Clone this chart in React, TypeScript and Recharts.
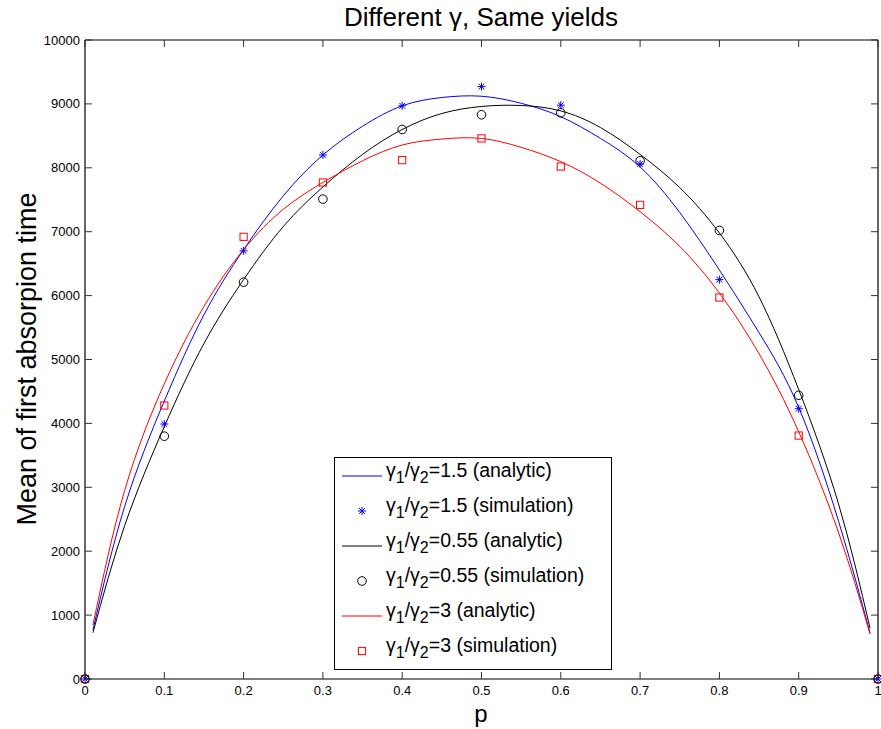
import { ComposedChart, Line, Scatter, XAxis, YAxis, Legend } from "recharts";

const P_SIM = [0, 0.1, 0.2, 0.3, 0.4, 0.5, 0.6, 0.7, 0.8, 0.9, 1];
const BLUE_SIM = [0, 3990, 6700, 8200, 8970, 9270, 8980, 8060, 6250, 4230, 0];
const BLACK_SIM = [0, 3800, 6210, 7510, 8600, 8830, 8860, 8110, 7020, 4440, 0];
const RED_SIM = [0, 4280, 6920, 7770, 8120, 8460, 8020, 7420, 5970, 3810, 0];

const P_CURVE = [0.01, 0.05, 0.1, 0.15, 0.2, 0.25, 0.3, 0.35, 0.4, 0.45, 0.5, 0.55, 0.6, 0.65, 0.7, 0.75, 0.8, 0.85, 0.9, 0.95, 0.99];
const BLUE_CURVE = [767, 2700, 4350, 5700, 6720, 7560, 8200, 8650, 8970, 9100, 9120, 9010, 8800, 8460, 8013, 7300, 6400, 5420, 4250, 2480, 715];
const BLACK_CURVE = [725, 2400, 3950, 5250, 6250, 7080, 7700, 8210, 8600, 8850, 8960, 8975, 8890, 8630, 8210, 7690, 6980, 5980, 4530, 2750, 793];
const RED_CURVE = [845, 2950, 4620, 5830, 6720, 7350, 7770, 8110, 8357, 8450, 8460, 8320, 8096, 7760, 7313, 6770, 6040, 5090, 3870, 2300, 704];

const X_TICKS = [0, 0.1, 0.2, 0.3, 0.4, 0.5, 0.6, 0.7, 0.8, 0.9, 1];
const Y_TICKS = [0, 1000, 2000, 3000, 4000, 5000, 6000, 7000, 8000, 9000, 10000];

const LEGEND_RATIOS = ["1.5", "0.55", "3"];

const FONT = "'Liberation Sans', Arial, Helvetica, sans-serif";
const BLUE = "#0000ff";
const RED = "#ff0000";
const BLACK = "#000000";
const TICK = 7;

const zip = (ps: number[], vs: number[]) => ps.map((p, i) => ({ p, v: vs[i] }));

// tick components: label plus an inward tick mark (matlab style box)
const BottomTick = ({ x, y, payload }: any) => (
  <g>
    <line x1={x} x2={x} y1={y - 12} y2={y - 12 - TICK} stroke="#333" />
    <text x={x} y={y + 4} textAnchor="middle" fontSize={13} fontFamily={FONT} fill="#000">
      {payload.value}
    </text>
  </g>
);
const LeftTick = ({ x, y, payload }: any) => (
  <g>
    <line x1={x + 5} x2={x + 5 + TICK} y1={y} y2={y} stroke="#333" />
    <text x={x} y={y + 4.5} textAnchor="end" fontSize={13} fontFamily={FONT} fill="#000">
      {payload.value}
    </text>
  </g>
);
const TopTick = ({ x, y }: any) => (
  <line x1={x} x2={x} y1={y} y2={y + TICK} stroke="#333" />
);
const RightTick = ({ x, y }: any) => (
  <line x1={x} x2={x - TICK} y1={y} y2={y} stroke="#333" />
);

const Star = ({ cx, cy, color = BLUE }: any) => {
  const r = 4;
  const d = r * 0.72;
  return (
    <g stroke={color} strokeWidth={1}>
      <line x1={cx - r} y1={cy} x2={cx + r} y2={cy} />
      <line x1={cx} y1={cy - r} x2={cx} y2={cy + r} />
      <line x1={cx - d} y1={cy - d} x2={cx + d} y2={cy + d} />
      <line x1={cx - d} y1={cy + d} x2={cx + d} y2={cy - d} />
    </g>
  );
};

const Circle = ({ cx, cy }: any) => (
  <circle cx={cx} cy={cy} r={4.3} fill="none" stroke={BLACK} strokeWidth={1} />
);

const Square = ({ cx, cy }: any) => (
  <rect x={cx - 3.6} y={cy - 3.6} width={7.2} height={7.2} fill="none" stroke={RED} strokeWidth={1} />
);

const GammaText = ({ x, y, ratio, kind }: any) => (
  <text x={x} y={y} fontSize={19.5} fontFamily={FONT} fill="#000">
    γ<tspan dy={6} fontSize={16}>1</tspan>
    <tspan dy={-6}>/γ</tspan>
    <tspan dy={6} fontSize={16}>2</tspan>
    <tspan dy={-6}>={ratio} ({kind})</tspan>
  </text>
);

const LegendBox = () => {
  const colors = [BLUE, BLACK, RED];
  const rows: any[] = [];
  LEGEND_RATIOS.forEach((ratio, i) => {
    const yLine = 19 + i * 70;
    const yMark = yLine + 35;
    rows.push(
      <g key={`a${i}`}>
        <line x1={8} x2={48} y1={yLine} y2={yLine} stroke={colors[i]} strokeWidth={1} />
        <GammaText x={52} y={yLine + 1} ratio={ratio} kind="analytic" />
      </g>
    );
    rows.push(
      <g key={`s${i}`}>
        {i === 0 && <Star cx={28} cy={yMark} />}
        {i === 1 && <Circle cx={28} cy={yMark} />}
        {i === 2 && <Square cx={28} cy={yMark} />}
        <GammaText x={52} y={yMark + 1} ratio={ratio} kind="simulation" />
      </g>
    );
  });
  return (
    <svg width={279} height={214} style={{ display: "block" }}>
      <rect x={0.5} y={0.5} width={277} height={212} fill="#fff" stroke="#000" strokeWidth={1} />
      {rows}
    </svg>
  );
};

export default function App() {
  const frame = zip([0, 1], [0, 10000]);
  return (
    <div style={{ position: "absolute", left: 0, top: 0, width: 881, height: 729, background: "#fff" }}>
      <ComposedChart
        width={881}
        height={729}
        margin={{ top: 39, right: 2, bottom: 20, left: 25 }}
        style={{ fontFamily: FONT }}
      >
        <XAxis
          dataKey="p"
          type="number"
          domain={[0, 1]}
          ticks={X_TICKS}
          interval={0}
          height={30}
          tickSize={0}
          tickMargin={12}
          axisLine={{ stroke: "#000", strokeWidth: 1.2 }}
          tickLine={false}
          tick={<BottomTick />}
        />
        <XAxis
          xAxisId="top"
          dataKey="p"
          orientation="top"
          type="number"
          domain={[0, 1]}
          ticks={X_TICKS}
          interval={0}
          height={1}
          tickSize={0}
          tickMargin={0}
          tickLine={false}
          tick={<TopTick />}
          axisLine={{ stroke: "#000", strokeWidth: 1.2 }}
        />
        <YAxis
          type="number"
          domain={[0, 10000]}
          ticks={Y_TICKS}
          interval={0}
          width={60}
          tickSize={0}
          tickMargin={5}
          axisLine={{ stroke: "#000", strokeWidth: 1.2 }}
          tickLine={false}
          tick={<LeftTick />}
        />
        <YAxis
          yAxisId="right"
          orientation="right"
          type="number"
          domain={[0, 10000]}
          ticks={Y_TICKS}
          interval={0}
          width={1}
          tickSize={0}
          tickMargin={0}
          tickLine={false}
          tick={<RightTick />}
          axisLine={{ stroke: "#000", strokeWidth: 1.2 }}
        />
        <Line data={frame} xAxisId="top" yAxisId="right" dataKey="v" stroke="none" dot={false} isAnimationActive={false} legendType="none" />
        <Line data={zip(P_CURVE, BLUE_CURVE)} dataKey="v" type="natural" stroke={BLUE} strokeWidth={1} dot={false} isAnimationActive={false} />
        <Line data={zip(P_CURVE, BLACK_CURVE)} dataKey="v" type="natural" stroke={BLACK} strokeWidth={1} dot={false} isAnimationActive={false} />
        <Line data={zip(P_CURVE, RED_CURVE)} dataKey="v" type="natural" stroke={RED} strokeWidth={1} dot={false} isAnimationActive={false} />
        <Scatter data={zip(P_SIM, RED_SIM)} dataKey="v" shape={(pr: any) => <Square cx={pr.cx} cy={pr.cy} />} isAnimationActive={false} />
        <Scatter data={zip(P_SIM, BLACK_SIM)} dataKey="v" shape={(pr: any) => <Circle cx={pr.cx} cy={pr.cy} />} isAnimationActive={false} />
        <Scatter data={zip(P_SIM, BLUE_SIM)} dataKey="v" shape={(pr: any) => <Star cx={pr.cx} cy={pr.cy} />} isAnimationActive={false} />
        <Legend
          layout="horizontal"
          verticalAlign="middle"
          align="center"
          content={() => <LegendBox />}
          wrapperStyle={{ position: "absolute", left: 334, top: 457, width: 279, height: 214 }}
        />
      </ComposedChart>
      <svg width={881} height={729} style={{ position: "absolute", left: 0, top: 0, pointerEvents: "none" }}>
        <text x={481} y={26} textAnchor="middle" fontSize={26} fontFamily={FONT} fill="#000">
          Different γ, Same yields
        </text>
        <text x={481} y={722} textAnchor="middle" fontSize={24} fontFamily={FONT} fill="#000">
          p
        </text>
        <text
          x={0}
          y={0}
          transform="translate(36 359) rotate(-90)"
          textAnchor="middle"
          fontSize={27}
          fontFamily={FONT}
          fill="#000"
        >
          Mean of first absorpion time
        </text>
      </svg>
    </div>
  );
}
